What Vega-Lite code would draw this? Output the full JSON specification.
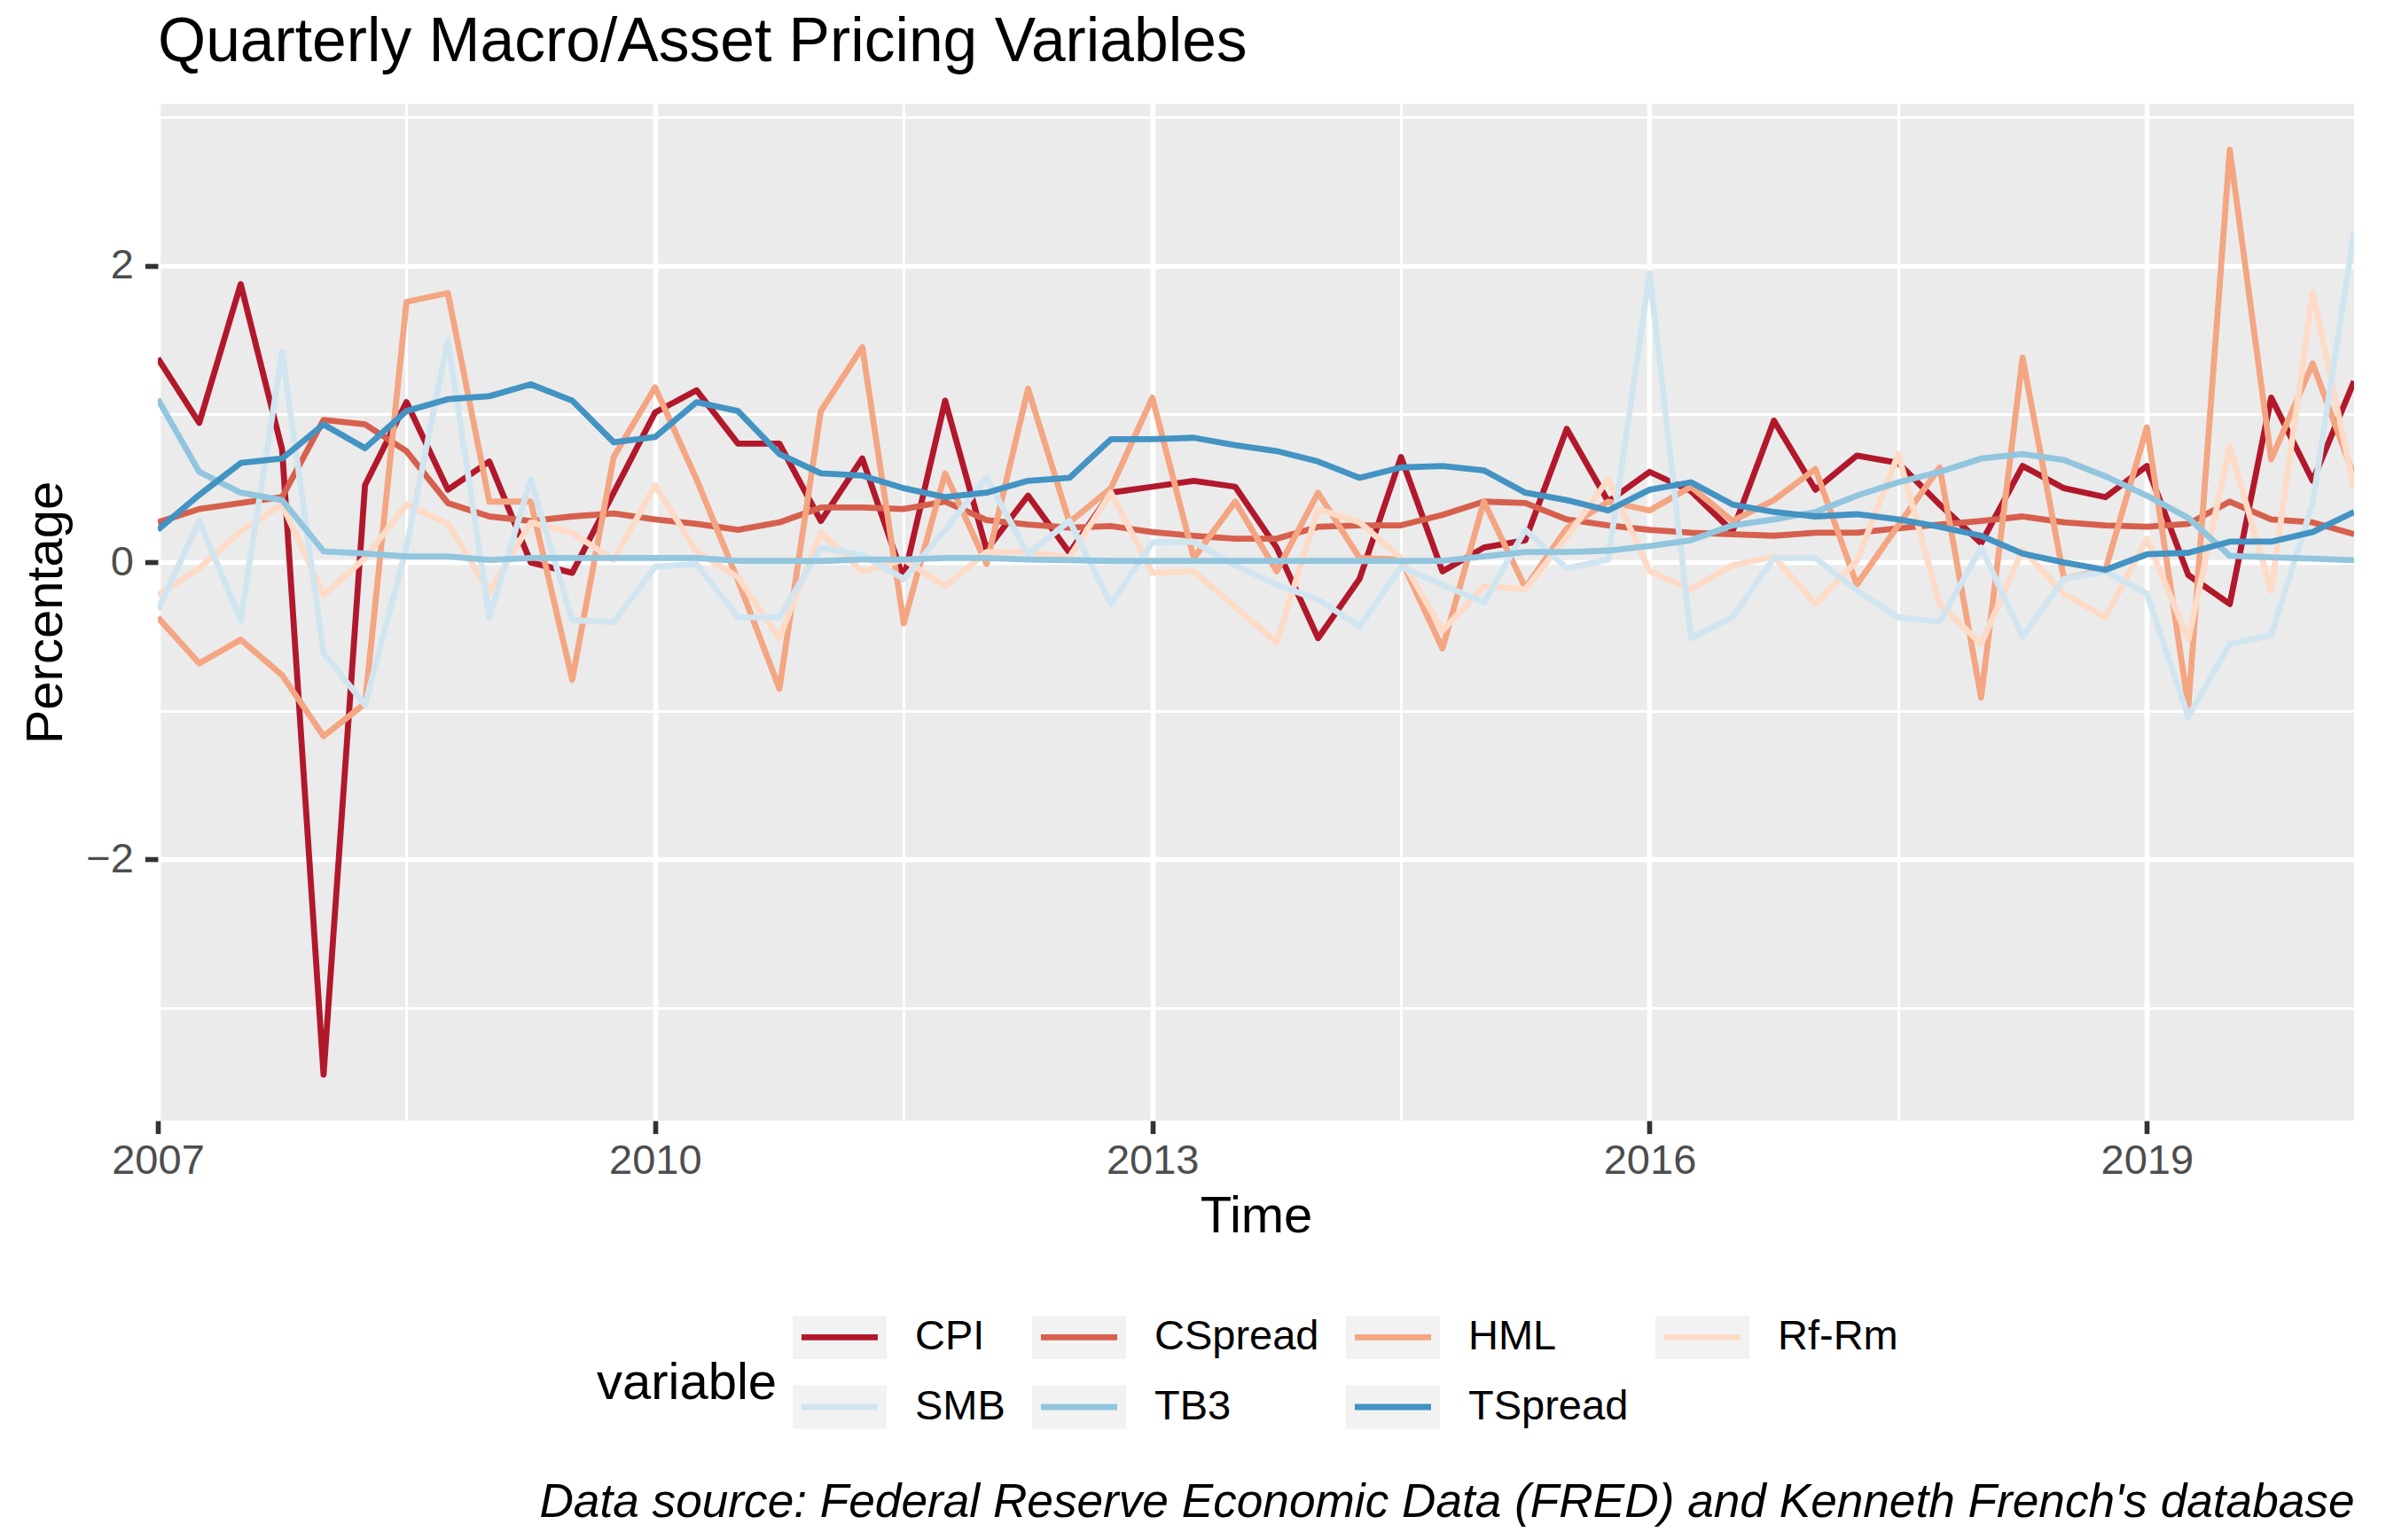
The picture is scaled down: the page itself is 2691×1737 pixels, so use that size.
{
  "$schema": "https://vega.github.io/schema/vega-lite/v6.json",
  "width": 2477,
  "height": 1147,
  "autosize": {"type": "none"},
  "padding": {"left": 178, "top": 117, "right": 36, "bottom": 473},
  "background": "white",
  "title": {"text": "Quarterly Macro/Asset Pricing Variables", "anchor": "start", "frame": "group", "font": "Liberation Sans", "fontSize": 69.6, "fontWeight": "normal", "color": "black", "baseline": "alphabetic", "offset": -31},
  "config": {"view": {"fill": "#EBEBEB", "stroke": null}, "font": "Liberation Sans"},
  "datasets": {
    "main": [
{"t":2007,"variable":"CPI","value":1.375},{"t":2007.25,"variable":"CPI","value":0.94},{"t":2007.5,"variable":"CPI","value":1.875},{"t":2007.75,"variable":"CPI","value":0.76},{"t":2008,"variable":"CPI","value":-3.45},{"t":2008.25,"variable":"CPI","value":0.52},{"t":2008.5,"variable":"CPI","value":1.08},{"t":2008.75,"variable":"CPI","value":0.49},{"t":2009,"variable":"CPI","value":0.68},{"t":2009.25,"variable":"CPI","value":0.0},{"t":2009.5,"variable":"CPI","value":-0.07},{"t":2009.75,"variable":"CPI","value":0.47},{"t":2010,"variable":"CPI","value":1.01},{"t":2010.25,"variable":"CPI","value":1.16},{"t":2010.5,"variable":"CPI","value":0.80},{"t":2010.75,"variable":"CPI","value":0.80},{"t":2011,"variable":"CPI","value":0.28},{"t":2011.25,"variable":"CPI","value":0.70},{"t":2011.5,"variable":"CPI","value":-0.11},{"t":2011.75,"variable":"CPI","value":1.09},{"t":2012,"variable":"CPI","value":0.085},{"t":2012.25,"variable":"CPI","value":0.45},{"t":2012.5,"variable":"CPI","value":0.065},{"t":2012.75,"variable":"CPI","value":0.47},{"t":2013,"variable":"CPI","value":0.51},{"t":2013.25,"variable":"CPI","value":0.55},{"t":2013.5,"variable":"CPI","value":0.51},{"t":2013.75,"variable":"CPI","value":0.10},{"t":2014,"variable":"CPI","value":-0.51},{"t":2014.25,"variable":"CPI","value":-0.11},{"t":2014.5,"variable":"CPI","value":0.71},{"t":2014.75,"variable":"CPI","value":-0.06},{"t":2015,"variable":"CPI","value":0.10},{"t":2015.25,"variable":"CPI","value":0.15},{"t":2015.5,"variable":"CPI","value":0.90},{"t":2015.75,"variable":"CPI","value":0.41},{"t":2016,"variable":"CPI","value":0.61},{"t":2016.25,"variable":"CPI","value":0.48},{"t":2016.5,"variable":"CPI","value":0.21},{"t":2016.75,"variable":"CPI","value":0.955},{"t":2017,"variable":"CPI","value":0.49},{"t":2017.25,"variable":"CPI","value":0.72},{"t":2017.5,"variable":"CPI","value":0.67},{"t":2017.75,"variable":"CPI","value":0.39},{"t":2018,"variable":"CPI","value":0.13},{"t":2018.25,"variable":"CPI","value":0.65},{"t":2018.5,"variable":"CPI","value":0.50},{"t":2018.75,"variable":"CPI","value":0.44},{"t":2019,"variable":"CPI","value":0.65},{"t":2019.25,"variable":"CPI","value":-0.085},{"t":2019.5,"variable":"CPI","value":-0.28},{"t":2019.75,"variable":"CPI","value":1.11},{"t":2020,"variable":"CPI","value":0.55},{"t":2020.25,"variable":"CPI","value":1.22},
{"t":2007,"variable":"CSpread","value":0.27},{"t":2007.25,"variable":"CSpread","value":0.36},{"t":2007.5,"variable":"CSpread","value":0.40},{"t":2007.75,"variable":"CSpread","value":0.44},{"t":2008,"variable":"CSpread","value":0.96},{"t":2008.25,"variable":"CSpread","value":0.93},{"t":2008.5,"variable":"CSpread","value":0.75},{"t":2008.75,"variable":"CSpread","value":0.40},{"t":2009,"variable":"CSpread","value":0.31},{"t":2009.25,"variable":"CSpread","value":0.28},{"t":2009.5,"variable":"CSpread","value":0.31},{"t":2009.75,"variable":"CSpread","value":0.33},{"t":2010,"variable":"CSpread","value":0.29},{"t":2010.25,"variable":"CSpread","value":0.26},{"t":2010.5,"variable":"CSpread","value":0.22},{"t":2010.75,"variable":"CSpread","value":0.27},{"t":2011,"variable":"CSpread","value":0.37},{"t":2011.25,"variable":"CSpread","value":0.37},{"t":2011.5,"variable":"CSpread","value":0.36},{"t":2011.75,"variable":"CSpread","value":0.41},{"t":2012,"variable":"CSpread","value":0.285},{"t":2012.25,"variable":"CSpread","value":0.255},{"t":2012.5,"variable":"CSpread","value":0.235},{"t":2012.75,"variable":"CSpread","value":0.245},{"t":2013,"variable":"CSpread","value":0.205},{"t":2013.25,"variable":"CSpread","value":0.18},{"t":2013.5,"variable":"CSpread","value":0.16},{"t":2013.75,"variable":"CSpread","value":0.16},{"t":2014,"variable":"CSpread","value":0.24},{"t":2014.25,"variable":"CSpread","value":0.25},{"t":2014.5,"variable":"CSpread","value":0.25},{"t":2014.75,"variable":"CSpread","value":0.32},{"t":2015,"variable":"CSpread","value":0.41},{"t":2015.25,"variable":"CSpread","value":0.40},{"t":2015.5,"variable":"CSpread","value":0.29},{"t":2015.75,"variable":"CSpread","value":0.25},{"t":2016,"variable":"CSpread","value":0.22},{"t":2016.25,"variable":"CSpread","value":0.20},{"t":2016.5,"variable":"CSpread","value":0.19},{"t":2016.75,"variable":"CSpread","value":0.18},{"t":2017,"variable":"CSpread","value":0.20},{"t":2017.25,"variable":"CSpread","value":0.20},{"t":2017.5,"variable":"CSpread","value":0.23},{"t":2017.75,"variable":"CSpread","value":0.255},{"t":2018,"variable":"CSpread","value":0.28},{"t":2018.25,"variable":"CSpread","value":0.31},{"t":2018.5,"variable":"CSpread","value":0.27},{"t":2018.75,"variable":"CSpread","value":0.25},{"t":2019,"variable":"CSpread","value":0.24},{"t":2019.25,"variable":"CSpread","value":0.26},{"t":2019.5,"variable":"CSpread","value":0.41},{"t":2019.75,"variable":"CSpread","value":0.29},{"t":2020,"variable":"CSpread","value":0.27},{"t":2020.25,"variable":"CSpread","value":0.19},
{"t":2007,"variable":"HML","value":-0.37},{"t":2007.25,"variable":"HML","value":-0.68},{"t":2007.5,"variable":"HML","value":-0.52},{"t":2007.75,"variable":"HML","value":-0.76},{"t":2008,"variable":"HML","value":-1.17},{"t":2008.25,"variable":"HML","value":-0.95},{"t":2008.5,"variable":"HML","value":1.755},{"t":2008.75,"variable":"HML","value":1.815},{"t":2009,"variable":"HML","value":0.41},{"t":2009.25,"variable":"HML","value":0.41},{"t":2009.5,"variable":"HML","value":-0.79},{"t":2009.75,"variable":"HML","value":0.71},{"t":2010,"variable":"HML","value":1.18},{"t":2010.25,"variable":"HML","value":0.56},{"t":2010.5,"variable":"HML","value":-0.12},{"t":2010.75,"variable":"HML","value":-0.85},{"t":2011,"variable":"HML","value":1.02},{"t":2011.25,"variable":"HML","value":1.45},{"t":2011.5,"variable":"HML","value":-0.41},{"t":2011.75,"variable":"HML","value":0.60},{"t":2012,"variable":"HML","value":-0.01},{"t":2012.25,"variable":"HML","value":1.17},{"t":2012.5,"variable":"HML","value":0.27},{"t":2012.75,"variable":"HML","value":0.50},{"t":2013,"variable":"HML","value":1.11},{"t":2013.25,"variable":"HML","value":0.03},{"t":2013.5,"variable":"HML","value":0.41},{"t":2013.75,"variable":"HML","value":-0.06},{"t":2014,"variable":"HML","value":0.47},{"t":2014.25,"variable":"HML","value":0.03},{"t":2014.5,"variable":"HML","value":0.02},{"t":2014.75,"variable":"HML","value":-0.58},{"t":2015,"variable":"HML","value":0.41},{"t":2015.25,"variable":"HML","value":-0.17},{"t":2015.5,"variable":"HML","value":0.23},{"t":2015.75,"variable":"HML","value":0.41},{"t":2016,"variable":"HML","value":0.35},{"t":2016.25,"variable":"HML","value":0.51},{"t":2016.5,"variable":"HML","value":0.28},{"t":2016.75,"variable":"HML","value":0.42},{"t":2017,"variable":"HML","value":0.63},{"t":2017.25,"variable":"HML","value":-0.15},{"t":2017.5,"variable":"HML","value":0.25},{"t":2017.75,"variable":"HML","value":0.64},{"t":2018,"variable":"HML","value":-0.91},{"t":2018.25,"variable":"HML","value":1.38},{"t":2018.5,"variable":"HML","value":-0.11},{"t":2018.75,"variable":"HML","value":-0.05},{"t":2019,"variable":"HML","value":0.91},{"t":2019.25,"variable":"HML","value":-0.97},{"t":2019.5,"variable":"HML","value":2.78},{"t":2019.75,"variable":"HML","value":0.695},{"t":2020,"variable":"HML","value":1.34},{"t":2020.25,"variable":"HML","value":0.58},
{"t":2007,"variable":"Rf-Rm","value":-0.22},{"t":2007.25,"variable":"Rf-Rm","value":-0.04},{"t":2007.5,"variable":"Rf-Rm","value":0.21},{"t":2007.75,"variable":"Rf-Rm","value":0.39},{"t":2008,"variable":"Rf-Rm","value":-0.22},{"t":2008.25,"variable":"Rf-Rm","value":0.03},{"t":2008.5,"variable":"Rf-Rm","value":0.39},{"t":2008.75,"variable":"Rf-Rm","value":0.26},{"t":2009,"variable":"Rf-Rm","value":-0.20},{"t":2009.25,"variable":"Rf-Rm","value":0.27},{"t":2009.5,"variable":"Rf-Rm","value":0.20},{"t":2009.75,"variable":"Rf-Rm","value":0.016},{"t":2010,"variable":"Rf-Rm","value":0.52},{"t":2010.25,"variable":"Rf-Rm","value":0.075},{"t":2010.5,"variable":"Rf-Rm","value":-0.10},{"t":2010.75,"variable":"Rf-Rm","value":-0.51},{"t":2011,"variable":"Rf-Rm","value":0.20},{"t":2011.25,"variable":"Rf-Rm","value":-0.06},{"t":2011.5,"variable":"Rf-Rm","value":0.02},{"t":2011.75,"variable":"Rf-Rm","value":-0.16},{"t":2012,"variable":"Rf-Rm","value":0.07},{"t":2012.25,"variable":"Rf-Rm","value":0.07},{"t":2012.5,"variable":"Rf-Rm","value":0.035},{"t":2012.75,"variable":"Rf-Rm","value":0.47},{"t":2013,"variable":"Rf-Rm","value":-0.07},{"t":2013.25,"variable":"Rf-Rm","value":-0.06},{"t":2013.5,"variable":"Rf-Rm","value":-0.30},{"t":2013.75,"variable":"Rf-Rm","value":-0.54},{"t":2014,"variable":"Rf-Rm","value":0.36},{"t":2014.25,"variable":"Rf-Rm","value":0.27},{"t":2014.5,"variable":"Rf-Rm","value":0.03},{"t":2014.75,"variable":"Rf-Rm","value":-0.46},{"t":2015,"variable":"Rf-Rm","value":-0.16},{"t":2015.25,"variable":"Rf-Rm","value":-0.18},{"t":2015.5,"variable":"Rf-Rm","value":0.17},{"t":2015.75,"variable":"Rf-Rm","value":0.56},{"t":2016,"variable":"Rf-Rm","value":-0.06},{"t":2016.25,"variable":"Rf-Rm","value":-0.18},{"t":2016.5,"variable":"Rf-Rm","value":-0.02},{"t":2016.75,"variable":"Rf-Rm","value":0.04},{"t":2017,"variable":"Rf-Rm","value":-0.28},{"t":2017.25,"variable":"Rf-Rm","value":0.01},{"t":2017.5,"variable":"Rf-Rm","value":0.73},{"t":2017.75,"variable":"Rf-Rm","value":-0.28},{"t":2018,"variable":"Rf-Rm","value":-0.55},{"t":2018.25,"variable":"Rf-Rm","value":0.085},{"t":2018.5,"variable":"Rf-Rm","value":-0.21},{"t":2018.75,"variable":"Rf-Rm","value":-0.37},{"t":2019,"variable":"Rf-Rm","value":0.16},{"t":2019.25,"variable":"Rf-Rm","value":-0.52},{"t":2019.5,"variable":"Rf-Rm","value":0.78},{"t":2019.75,"variable":"Rf-Rm","value":-0.19},{"t":2020,"variable":"Rf-Rm","value":1.82},{"t":2020.25,"variable":"Rf-Rm","value":0.50},
{"t":2007,"variable":"SMB","value":-0.32},{"t":2007.25,"variable":"SMB","value":0.28},{"t":2007.5,"variable":"SMB","value":-0.39},{"t":2007.75,"variable":"SMB","value":1.42},{"t":2008,"variable":"SMB","value":-0.61},{"t":2008.25,"variable":"SMB","value":-0.96},{"t":2008.5,"variable":"SMB","value":0.10},{"t":2008.75,"variable":"SMB","value":1.50},{"t":2009,"variable":"SMB","value":-0.37},{"t":2009.25,"variable":"SMB","value":0.56},{"t":2009.5,"variable":"SMB","value":-0.39},{"t":2009.75,"variable":"SMB","value":-0.40},{"t":2010,"variable":"SMB","value":-0.03},{"t":2010.25,"variable":"SMB","value":-0.01},{"t":2010.5,"variable":"SMB","value":-0.37},{"t":2010.75,"variable":"SMB","value":-0.37},{"t":2011,"variable":"SMB","value":0.10},{"t":2011.25,"variable":"SMB","value":0.05},{"t":2011.5,"variable":"SMB","value":-0.11},{"t":2011.75,"variable":"SMB","value":0.22},{"t":2012,"variable":"SMB","value":0.57},{"t":2012.25,"variable":"SMB","value":0.055},{"t":2012.5,"variable":"SMB","value":0.28},{"t":2012.75,"variable":"SMB","value":-0.28},{"t":2013,"variable":"SMB","value":0.135},{"t":2013.25,"variable":"SMB","value":0.14},{"t":2013.5,"variable":"SMB","value":-0.02},{"t":2013.75,"variable":"SMB","value":-0.15},{"t":2014,"variable":"SMB","value":-0.25},{"t":2014.25,"variable":"SMB","value":-0.43},{"t":2014.5,"variable":"SMB","value":-0.03},{"t":2014.75,"variable":"SMB","value":-0.15},{"t":2015,"variable":"SMB","value":-0.27},{"t":2015.25,"variable":"SMB","value":0.22},{"t":2015.5,"variable":"SMB","value":-0.04},{"t":2015.75,"variable":"SMB","value":0.02},{"t":2016,"variable":"SMB","value":1.95},{"t":2016.25,"variable":"SMB","value":-0.51},{"t":2016.5,"variable":"SMB","value":-0.37},{"t":2016.75,"variable":"SMB","value":0.03},{"t":2017,"variable":"SMB","value":0.03},{"t":2017.25,"variable":"SMB","value":-0.19},{"t":2017.5,"variable":"SMB","value":-0.37},{"t":2017.75,"variable":"SMB","value":-0.40},{"t":2018,"variable":"SMB","value":0.10},{"t":2018.25,"variable":"SMB","value":-0.50},{"t":2018.5,"variable":"SMB","value":-0.11},{"t":2018.75,"variable":"SMB","value":-0.06},{"t":2019,"variable":"SMB","value":-0.21},{"t":2019.25,"variable":"SMB","value":-1.04},{"t":2019.5,"variable":"SMB","value":-0.55},{"t":2019.75,"variable":"SMB","value":-0.49},{"t":2020,"variable":"SMB","value":0.40},{"t":2020.25,"variable":"SMB","value":2.23},
{"t":2007,"variable":"TB3","value":1.10},{"t":2007.25,"variable":"TB3","value":0.61},{"t":2007.5,"variable":"TB3","value":0.47},{"t":2007.75,"variable":"TB3","value":0.42},{"t":2008,"variable":"TB3","value":0.075},{"t":2008.25,"variable":"TB3","value":0.06},{"t":2008.5,"variable":"TB3","value":0.04},{"t":2008.75,"variable":"TB3","value":0.04},{"t":2009,"variable":"TB3","value":0.016},{"t":2009.25,"variable":"TB3","value":0.03},{"t":2009.5,"variable":"TB3","value":0.03},{"t":2009.75,"variable":"TB3","value":0.03},{"t":2010,"variable":"TB3","value":0.03},{"t":2010.25,"variable":"TB3","value":0.03},{"t":2010.5,"variable":"TB3","value":0.01},{"t":2010.75,"variable":"TB3","value":0.01},{"t":2011,"variable":"TB3","value":0.01},{"t":2011.25,"variable":"TB3","value":0.02},{"t":2011.5,"variable":"TB3","value":0.02},{"t":2011.75,"variable":"TB3","value":0.03},{"t":2012,"variable":"TB3","value":0.03},{"t":2012.25,"variable":"TB3","value":0.02},{"t":2012.5,"variable":"TB3","value":0.016},{"t":2012.75,"variable":"TB3","value":0.01},{"t":2013,"variable":"TB3","value":0.01},{"t":2013.25,"variable":"TB3","value":0.01},{"t":2013.5,"variable":"TB3","value":0.01},{"t":2013.75,"variable":"TB3","value":0.01},{"t":2014,"variable":"TB3","value":0.01},{"t":2014.25,"variable":"TB3","value":0.01},{"t":2014.5,"variable":"TB3","value":0.01},{"t":2014.75,"variable":"TB3","value":0.01},{"t":2015,"variable":"TB3","value":0.04},{"t":2015.25,"variable":"TB3","value":0.07},{"t":2015.5,"variable":"TB3","value":0.07},{"t":2015.75,"variable":"TB3","value":0.08},{"t":2016,"variable":"TB3","value":0.11},{"t":2016.25,"variable":"TB3","value":0.15},{"t":2016.5,"variable":"TB3","value":0.25},{"t":2016.75,"variable":"TB3","value":0.29},{"t":2017,"variable":"TB3","value":0.34},{"t":2017.25,"variable":"TB3","value":0.45},{"t":2017.5,"variable":"TB3","value":0.54},{"t":2017.75,"variable":"TB3","value":0.61},{"t":2018,"variable":"TB3","value":0.70},{"t":2018.25,"variable":"TB3","value":0.73},{"t":2018.5,"variable":"TB3","value":0.69},{"t":2018.75,"variable":"TB3","value":0.58},{"t":2019,"variable":"TB3","value":0.45},{"t":2019.25,"variable":"TB3","value":0.30},{"t":2019.5,"variable":"TB3","value":0.045},{"t":2019.75,"variable":"TB3","value":0.035},{"t":2020,"variable":"TB3","value":0.025},{"t":2020.25,"variable":"TB3","value":0.015},
{"t":2007,"variable":"TSpread","value":0.22},{"t":2007.25,"variable":"TSpread","value":0.455},{"t":2007.5,"variable":"TSpread","value":0.67},{"t":2007.75,"variable":"TSpread","value":0.70},{"t":2008,"variable":"TSpread","value":0.93},{"t":2008.25,"variable":"TSpread","value":0.77},{"t":2008.5,"variable":"TSpread","value":1.02},{"t":2008.75,"variable":"TSpread","value":1.10},{"t":2009,"variable":"TSpread","value":1.12},{"t":2009.25,"variable":"TSpread","value":1.20},{"t":2009.5,"variable":"TSpread","value":1.09},{"t":2009.75,"variable":"TSpread","value":0.81},{"t":2010,"variable":"TSpread","value":0.845},{"t":2010.25,"variable":"TSpread","value":1.08},{"t":2010.5,"variable":"TSpread","value":1.02},{"t":2010.75,"variable":"TSpread","value":0.73},{"t":2011,"variable":"TSpread","value":0.60},{"t":2011.25,"variable":"TSpread","value":0.585},{"t":2011.5,"variable":"TSpread","value":0.50},{"t":2011.75,"variable":"TSpread","value":0.44},{"t":2012,"variable":"TSpread","value":0.47},{"t":2012.25,"variable":"TSpread","value":0.55},{"t":2012.5,"variable":"TSpread","value":0.57},{"t":2012.75,"variable":"TSpread","value":0.83},{"t":2013,"variable":"TSpread","value":0.83},{"t":2013.25,"variable":"TSpread","value":0.84},{"t":2013.5,"variable":"TSpread","value":0.79},{"t":2013.75,"variable":"TSpread","value":0.75},{"t":2014,"variable":"TSpread","value":0.68},{"t":2014.25,"variable":"TSpread","value":0.57},{"t":2014.5,"variable":"TSpread","value":0.64},{"t":2014.75,"variable":"TSpread","value":0.65},{"t":2015,"variable":"TSpread","value":0.62},{"t":2015.25,"variable":"TSpread","value":0.47},{"t":2015.5,"variable":"TSpread","value":0.42},{"t":2015.75,"variable":"TSpread","value":0.35},{"t":2016,"variable":"TSpread","value":0.49},{"t":2016.25,"variable":"TSpread","value":0.54},{"t":2016.5,"variable":"TSpread","value":0.39},{"t":2016.75,"variable":"TSpread","value":0.34},{"t":2017,"variable":"TSpread","value":0.31},{"t":2017.25,"variable":"TSpread","value":0.325},{"t":2017.5,"variable":"TSpread","value":0.29},{"t":2017.75,"variable":"TSpread","value":0.24},{"t":2018,"variable":"TSpread","value":0.18},{"t":2018.25,"variable":"TSpread","value":0.06},{"t":2018.5,"variable":"TSpread","value":0.0},{"t":2018.75,"variable":"TSpread","value":-0.05},{"t":2019,"variable":"TSpread","value":0.055},{"t":2019.25,"variable":"TSpread","value":0.065},{"t":2019.5,"variable":"TSpread","value":0.14},{"t":2019.75,"variable":"TSpread","value":0.14},{"t":2020,"variable":"TSpread","value":0.205},{"t":2020.25,"variable":"TSpread","value":0.34}
    ]
  },
  "layer": [
    {
      "data": {"name": "main"},
      "mark": {"type": "line", "strokeWidth": 6.8, "strokeJoin": "round", "strokeCap": "butt", "clip": true},
      "encoding": {
        "x": {
          "field": "t", "type": "quantitative",
          "scale": {"domain": [2007, 2020.25], "nice": false, "zero": false},
          "axis": {
            "values": [2007, 2008.5, 2010, 2011.5, 2013, 2014.5, 2016, 2017.5, 2019],
            "labelExpr": "(datum.value - 2007) % 3 == 0 ? format(datum.value, 'd') : ''",
            "grid": true, "gridColor": "white",
            "gridWidth": {"condition": {"test": "(datum.value - 2007) % 3 == 0", "value": 5.65}, "value": 2.83},
            "tickOpacity": {"condition": {"test": "(datum.value - 2007) % 3 == 0", "value": 1}, "value": 0},
            "tickColor": "#333333", "tickWidth": 5.65, "tickSize": 14.6, "domain": false,
            "labelFont": "Liberation Sans", "labelFontSize": 47, "labelColor": "#4D4D4D", "labelPadding": 8,
            "labelFlush": false, "labelOverlap": false,
            "title": "Time", "titleFont": "Liberation Sans", "titleFontSize": 58, "titleFontWeight": "normal", "titleColor": "black",
            "titleBaseline": "alphabetic", "titleY": 125, "titleX": 1238.5
          }
        },
        "y": {
          "field": "value", "type": "quantitative",
          "scale": {"domain": [-3.76, 3.09], "nice": false, "zero": false},
          "axis": {
            "values": [-3, -2, -1, 0, 1, 2, 3],
            "labelExpr": "abs(datum.value) % 2 == 0 ? datum.label : ''",
            "grid": true, "gridColor": "white",
            "gridWidth": {"condition": {"test": "abs(datum.value) % 2 == 0", "value": 5.65}, "value": 2.83},
            "tickOpacity": {"condition": {"test": "abs(datum.value) % 2 == 0", "value": 1}, "value": 0},
            "tickColor": "#333333", "tickWidth": 5.65, "tickSize": 14.6, "domain": false,
            "labelFont": "Liberation Sans", "labelFontSize": 47, "labelColor": "#4D4D4D", "labelPadding": 13,
            "labelOverlap": false,
            "title": "Percentage", "titleFont": "Liberation Sans", "titleFontSize": 58, "titleFontWeight": "normal", "titleColor": "black",
            "titleBaseline": "alphabetic", "titleAngle": -90, "titleX": -109, "titleY": 573.5
          }
        },
        "color": {
          "field": "variable", "type": "nominal",
          "scale": {"domain": ["CPI", "CSpread", "HML", "Rf-Rm", "SMB", "TB3", "TSpread"], "range": ["#B2182B", "#D6604D", "#F4A582", "#FDDBC7", "#D1E5F0", "#92C5DE", "#4393C3"]},
          "legend": {
            "orient": "none", "legendX": 495, "legendY": 1351, "direction": "horizontal", "columns": 4, "padding": 0,
            "title": "variable", "titleOrient": "left", "titleAnchor": "middle", "titleBaseline": "line-top", "titleLineHeight": 28, "titleLimit": 600,
            "titleFont": "Liberation Sans", "titleFontSize": 58, "titleFontWeight": "normal", "titleColor": "black", "titlePadding": 30,
            "labelFont": "Liberation Sans", "labelFontSize": 47, "labelColor": "black", "labelOffset": 45, "labelLimit": 600,
            "symbolType": "M-1.175,0H1.175H1.448V-0.669H-1.448V0.669H1.448V0Z", "symbolSize": 5358, "symbolStrokeWidth": 6.8,
            "symbolDash": [86, 10000], "symbolFillColor": "#F2F2F2",
            "columnPadding": 16, "rowPadding": 0
          }
        }
      }
    },
    {
      "data": {"name": "main"},
      "mark": {"type": "point", "opacity": 0},
      "encoding": {
        "x": {
          "field": "t", "type": "quantitative",
          "axis": {
            "orient": "bottom", "labels": false, "ticks": false, "domain": false, "grid": false,
            "title": "Data source: Federal Reserve Economic Data (FRED) and Kenneth French's database",
            "titleFont": "Liberation Sans", "titleFontSize": 53.2, "titleFontStyle": "italic", "titleFontWeight": "normal", "titleColor": "black",
            "titleAlign": "right", "titleAnchor": "end", "titleX": 2477, "titleY": 446, "titleBaseline": "alphabetic", "titleLimit": 3000
          }
        },
        "y": {"field": "value", "type": "quantitative", "axis": null}
      }
    }
  ],
  "resolve": {"axis": {"x": "independent", "y": "independent"}}
}
